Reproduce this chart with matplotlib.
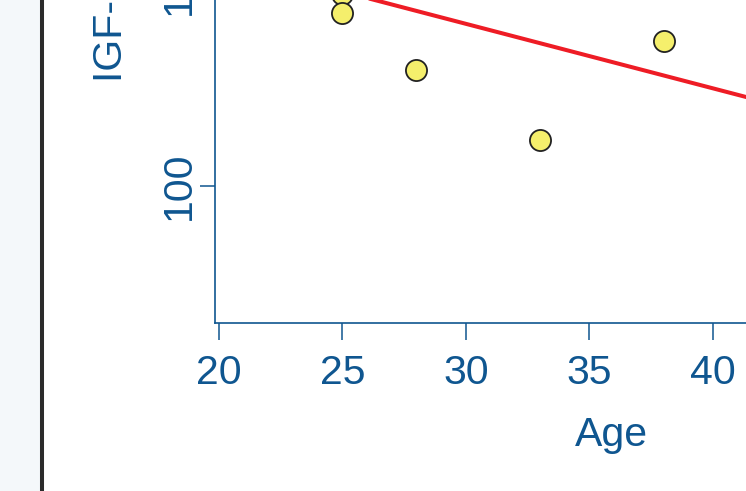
import matplotlib
matplotlib.use("Agg")
import matplotlib.pyplot as plt
from matplotlib.patches import Rectangle
from matplotlib.lines import Line2D

# Data (visible portion)
age = [25, 25, 28, 33, 38]
igf = [146.8, 142.3, 128.3, 111.1, 135.4]
fit_age = [20, 45]
fit_igf = [155.3, 115.9]
xticks = [20, 25, 30, 35, 40, 45, 50]
yticks = [100, 150]

W, H = 746, 491
DPI = 100
blue = "#0f5690"
plt.rcParams['font.family'] = ['Liberation Sans', 'DejaVu Sans']

fig = plt.figure(figsize=(W / DPI, H / DPI), dpi=DPI)
fig.patch.set_facecolor("white")

# outer light strip and dark border line
fig.patches.append(Rectangle((0, 0), 40 / W, 1, transform=fig.transFigure,
                             facecolor="#f4f8fa", edgecolor="none", zorder=0))
fig.lines.append(Line2D([41.8 / W, 41.8 / W], [0, 1], transform=fig.transFigure,
                        color="#2b2b2b", linewidth=2.9, zorder=1))

# axes placed in pixel geometry, extending past the figure edges
left_px, bottom_px, right_px, top_px = 214.6, 322.8, 960, -200
ax = fig.add_axes([left_px / W, (H - bottom_px) / H,
                   (right_px - left_px) / W, (bottom_px - top_px) / H])
ax.set_facecolor("white")

x20_px = 219.0
px_per_year = 25.8
x0 = 20 + (left_px - x20_px) / px_per_year
x1 = 20 + (right_px - x20_px) / px_per_year
y100_px = 185.7
px_per_unit = 4.094
y0 = 100 - (bottom_px - y100_px) / px_per_unit
y1 = 100 + (y100_px - top_px) / px_per_unit
ax.set_xlim(x0, x1)
ax.set_ylim(y0, y1)

ax.plot(age, igf, linestyle="none", marker="o", markersize=15.2,
        markerfacecolor="#f5ef6c", markeredgecolor="#222222",
        markeredgewidth=1.3, zorder=3)
ax.plot(fit_age, fit_igf, color="#ee1c25", linewidth=2.9, zorder=4)

for s in ["top", "right"]:
    ax.spines[s].set_visible(False)
for s in ["left", "bottom"]:
    ax.spines[s].set_color(blue)
    ax.spines[s].set_linewidth(1.2)

ax.set_xticks(xticks)
ax.set_yticks(yticks)
ax.tick_params(axis="both", colors=blue, length=12.5, width=1.1,
               labelsize=29.5, direction="out")
ax.tick_params(axis="y", length=11.0)
ax.tick_params(axis="x", pad=10.0)
ax.tick_params(axis="y", pad=1.0)
for lab in ax.get_yticklabels():
    lab.set_rotation(90)
    lab.set_va("center")

fig.text(611.7 / W, (H - 446.0) / H, "Age", color=blue, fontsize=29.5,
         ha="center", va="baseline")
fig.text(121.7 / W, (H - 81.7) / H, "IGF-1 (ng/ml)", color=blue, fontsize=29.5,
         rotation=90, rotation_mode="anchor", ha="left", va="baseline")

fig.savefig("out.png", dpi=DPI)
